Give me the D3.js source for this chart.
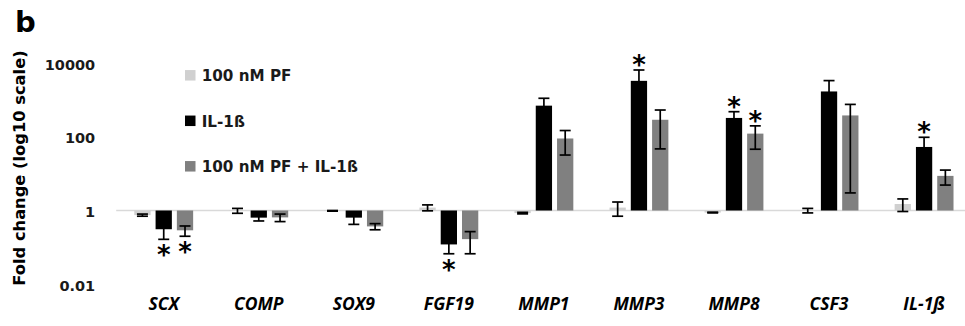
<!DOCTYPE html>
<html>
<head>
<meta charset="utf-8">
<script src="https://cdnjs.cloudflare.com/ajax/libs/d3/7.8.5/d3.min.js"></script>
<style>
  body { margin: 0; background: #fff; }
  svg { display: block; }
</style>
</head>
<body>
<div id="chart"></div>
<script>
// Data
var categories = ["SCX", "COMP", "SOX9", "FGF19", "MMP1", "MMP3", "MMP8", "CSF3", "IL-1ß"];
var seriesNames = ["100 nM PF", "IL-1ß", "100 nM PF + IL-1ß"];

var pfValues = [0.75, 0.99, 0.98, 1.2, 0.85, 1.2, 0.88, 1.0, 1.5];
var pfErrors = [0.05, 0.15, 0.02, 0.22, 0.04, 0.5, 0.02, 0.14, 0.56];
var pfStars = [false, false, false, false, false, false, false, false, false];

var il1bValues = [0.31, 0.64, 0.64, 0.12, 700, 3300, 325, 1700, 53];
var il1bErrors = [0.145, 0.12, 0.22, 0.053, 410, 3200, 155, 1650, 44];
var il1bStars = [true, false, false, true, false, true, true, false, true];

var comboValues = [0.29, 0.65, 0.37, 0.167, 90, 290, 122, 380, 8.7];
var comboErrors = [0.09, 0.15, 0.07, 0.1, 58, 243, 76, 377, 3.8];
var comboStars = [true, false, false, false, false, false, true, false, false];

var yTicks = [0.01, 1, 100, 10000];

var svgWidth = 965;
var svgHeight = 326;
var margin = {top: 63.1, left: 116.2};
// the plot area runs a little past the right edge of the picture, as in the original
var width = 855.4;
var height = 221.1;

var svg = d3.select("#chart")
  .append("svg")
  .attr("width", svgWidth)
  .attr("height", svgHeight);

var chart = svg.append("g")
  .attr("transform", `translate(${margin.left}, ${margin.top})`);

// Scales
var xScale = d3.scaleBand()
  .domain(categories)
  .range([0, width]);

var xSub = d3.scaleBand()
  .domain(seriesNames)
  .range([0, xScale.bandwidth()])
  .paddingInner(0.235)
  .paddingOuter(0.85);

var yScale = d3.scaleLog()
  .domain([0.01, 10000])
  .range([height, 0]);

var color = d3.scaleOrdinal()
  .domain(seriesNames)
  .range(["#d0d0d0", "#000000", "#808080"]);

// flatten to one row per bar
var allValues = [pfValues, il1bValues, comboValues];
var allErrors = [pfErrors, il1bErrors, comboErrors];
var allStars = [pfStars, il1bStars, comboStars];
var rows = [];
categories.forEach(function(c, i) {
  seriesNames.forEach(function(s, j) {
    rows.push({cat: c, series: s, value: allValues[j][i], err: allErrors[j][i], star: allStars[j][i]});
  });
});

var barX = d => xScale(d.cat) + xSub(d.series);
var barMid = d => barX(d) + xSub.bandwidth() / 2;
var y1 = yScale(1);

// Y axis labels only (no line, no ticks)
var yAxis = chart.append("g")
  .call(d3.axisLeft(yScale).tickValues(yTicks).tickSize(0).tickPadding(21).tickFormat(d3.format("~g")));
yAxis.select(".domain").remove();
yAxis.selectAll("text")
  .attr("dy", "0.42em")
  .attr("font-family", "DejaVu Sans")
  .attr("font-weight", "bold")
  .attr("font-size", "14.5px")
  .attr("fill", "#1a1a1a");

// category axis line at 1
chart.append("line")
  .attr("x1", 0)
  .attr("x2", width)
  .attr("y1", y1)
  .attr("y2", y1)
  .attr("stroke", "#d9d9d9")
  .attr("stroke-width", 1.6);

// Bars grow up or down from 1
chart.append("g")
  .selectAll("rect")
  .data(rows)
  .enter()
  .append("rect")
  .attr("x", barX)
  .attr("width", xSub.bandwidth())
  .attr("y", d => Math.min(y1, yScale(d.value)))
  .attr("height", d => Math.abs(yScale(d.value) - y1))
  .attr("fill", d => color(d.series));

// Error bars
var capHalf = 5.5;
var errs = chart.append("g")
  .attr("stroke", "#000")
  .attr("stroke-width", 1.7)
  .selectAll("g")
  .data(rows)
  .enter()
  .append("g");

errs.append("line")
  .attr("x1", barMid)
  .attr("x2", barMid)
  .attr("y1", d => yScale(d.value + d.err))
  .attr("y2", d => yScale(d.value - d.err));

errs.append("line")
  .attr("x1", d => barMid(d) - capHalf)
  .attr("x2", d => barMid(d) + capHalf)
  .attr("y1", d => yScale(d.value + d.err))
  .attr("y2", d => yScale(d.value + d.err));

errs.append("line")
  .attr("x1", d => barMid(d) - capHalf)
  .attr("x2", d => barMid(d) + capHalf)
  .attr("y1", d => yScale(d.value - d.err))
  .attr("y2", d => yScale(d.value - d.err));

// Significance stars, above the error bar for up-regulated, below for down
chart.append("g")
  .selectAll("text")
  .data(rows.filter(d => d.star))
  .enter()
  .append("text")
  .text("*")
  .attr("x", barMid)
  .attr("y", d => d.value > 1 ? yScale(d.value + d.err) - 9.5 + 13.6 : yScale(d.value - d.err) + 11.5 + 13.6)
  .attr("text-anchor", "middle")
  .attr("font-family", "DejaVu Sans")
  .attr("font-weight", "bold")
  .attr("font-size", "26px")
  .attr("fill", "#000");

// Category labels
chart.append("g")
  .selectAll("text")
  .data(categories)
  .enter()
  .append("text")
  .text(d => d)
  .attr("x", d => xScale(d) + xScale.bandwidth() / 2)
  .attr("y", 310 - margin.top)
  .attr("text-anchor", "middle")
  .attr("font-family", "Open Sans")
  .attr("font-weight", "bold")
  .attr("font-style", "italic")
  .attr("font-size", "17.5px")
  .attr("fill", "#000");

// Y axis title
svg.append("text")
  .attr("transform", "translate(25, 168) rotate(-90)")
  .attr("text-anchor", "middle")
  .attr("font-family", "DejaVu Sans")
  .attr("font-weight", "bold")
  .attr("font-size", "16.3px")
  .attr("fill", "#000")
  .text("Fold change (log10 scale)");

// Panel letter
svg.append("text")
  .attr("x", 15)
  .attr("y", 31.5)
  .attr("font-family", "DejaVu Sans")
  .attr("font-weight", "bold")
  .attr("font-size", "29px")
  .attr("fill", "#000")
  .text("b");

// Legend
var legend = svg.append("g")
  .selectAll("g")
  .data(seriesNames)
  .enter()
  .append("g")
  .attr("transform", (d, i) => `translate(185, ${75.3 + i * 45.5})`);

legend.append("rect")
  .attr("x", 0)
  .attr("y", -5.25)
  .attr("width", 10.5)
  .attr("height", 10.5)
  .attr("fill", d => color(d));

legend.append("text")
  .attr("x", 16.7)
  .attr("y", 5.8)
  .attr("font-family", "DejaVu Sans")
  .attr("font-weight", "bold")
  .attr("font-size", "15.2px")
  .attr("fill", "#1a1a1a")
  .text(d => d);
</script>
</body>
</html>
